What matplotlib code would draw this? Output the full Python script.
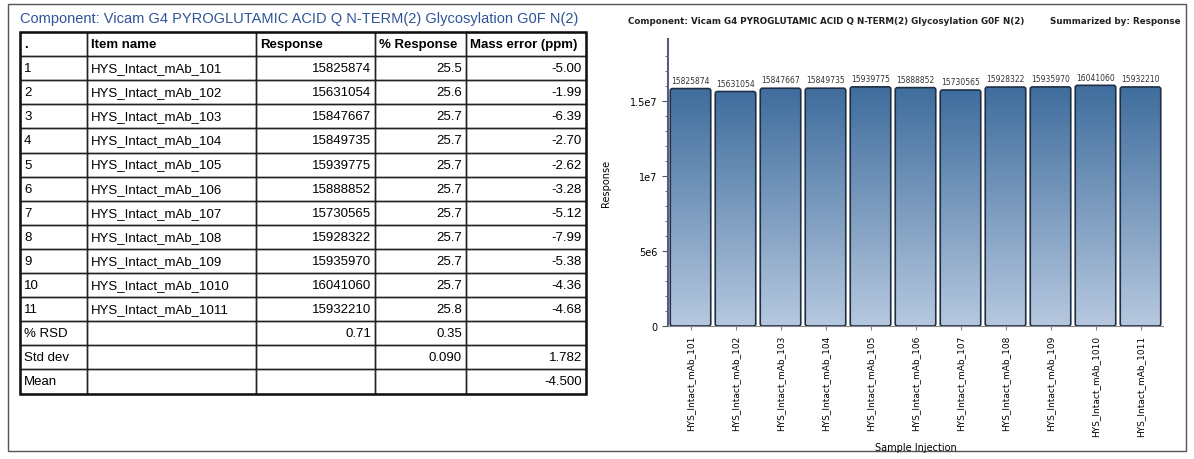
import matplotlib
matplotlib.use("Agg")
import matplotlib.pyplot as plt
import numpy as np
from matplotlib.patches import Rectangle, FancyBboxPatch

items = ["HYS_Intact_mAb_101","HYS_Intact_mAb_102","HYS_Intact_mAb_103","HYS_Intact_mAb_104",
         "HYS_Intact_mAb_105","HYS_Intact_mAb_106","HYS_Intact_mAb_107","HYS_Intact_mAb_108",
         "HYS_Intact_mAb_109","HYS_Intact_mAb_1010","HYS_Intact_mAb_1011"]
response = [15825874,15631054,15847667,15849735,15939775,15888852,15730565,15928322,15935970,16041060,15932210]
pct_response = ["25.5","25.6","25.7","25.7","25.7","25.7","25.7","25.7","25.7","25.7","25.8"]
mass_error = ["-5.00","-1.99","-6.39","-2.70","-2.62","-3.28","-5.12","-7.99","-5.38","-4.36","-4.68"]
summary_rows = [["% RSD","","0.71","0.35",""],["Std dev","","","0.090","1.782"],["Mean","","","","-4.500"]]
title = "Component: Vicam G4 PYROGLUTAMIC ACID Q N-TERM(2) Glycosylation G0F N(2)"

W, H = 1194, 460
fig = plt.figure(figsize=(W/100, H/100), dpi=100)
bg = fig.add_axes([0, 0, 1, 1]); bg.set_xlim(0, W); bg.set_ylim(H, 0); bg.axis("off")
bg.add_patch(Rectangle((8, 5), 1178, 447, fill=False, ec="#555555", lw=1))
bg.text(20, 19, title, color="#2f5597", fontsize=10.5, va="center", family="Liberation Sans")

# table
cols = [20, 87, 256, 375, 466, 586]
top, rh = 33, 24.1
header = [".", "Item name", "Response", "% Response", "Mass error (ppm)"]
rows = [header] + [[str(i+1), items[i], str(response[i]), pct_response[i], mass_error[i]] for i in range(11)] + summary_rows
for r, row in enumerate(rows):
    y0 = top + r*rh
    for c, txt in enumerate(row):
        x0, x1 = cols[c], cols[c+1]
        bg.add_patch(Rectangle((x0, y0), x1-x0, rh, fill=False, ec="#222222", lw=1))
        if not txt: continue
        fw = "bold" if r == 0 else "normal"
        if r == 0 or c <= 1:
            bg.text(x0+4, y0+rh/2, txt, fontsize=9.5, va="center", ha="left", weight=fw, family="Liberation Sans")
        else:
            bg.text(x1-4, y0+rh/2, txt, fontsize=9.5, va="center", ha="right", family="Liberation Sans")
bg.add_patch(Rectangle((cols[0], top), cols[-1]-cols[0], rh*len(rows), fill=False, ec="#111111", lw=1.8))

# chart
bg.text(628, 21, title, fontsize=6.3, weight="bold", va="center", color="#222222")
bg.text(1180, 21, "Summarized by: Response", fontsize=6.3, weight="bold", va="center", ha="right", color="#222222")
ax = fig.add_axes([668/W, 1-327/H, (1163-668)/W, (327-40)/H])
ax.set_ylim(0, 1.913e7)
x = np.arange(len(items))
ax.set_xlim(-0.5, len(items)-0.5)
grad = np.linspace(0, 1, 256).reshape(-1, 1)
from matplotlib.colors import LinearSegmentedColormap
cmap = LinearSegmentedColormap.from_list("g", ["#b6c8df", "#3f6d9d"])
for xi, v in zip(x, response):
    p = FancyBboxPatch((xi-0.45, 0), 0.9, v, boxstyle="round,pad=0,rounding_size=0.05",
                       mutation_aspect=3e6, fc="none", ec="#1f2f45", lw=1.2, zorder=3)
    ax.add_patch(p)
    im = ax.imshow(grad, extent=(xi-0.45, xi+0.45, 0, v), origin="lower", aspect="auto", cmap=cmap, zorder=2)
    im.set_clip_path(p)
    ax.text(xi, v + 2.5e5, str(v), ha="center", va="bottom", fontsize=5.5, color="#333333")
ax.set_aspect("auto")
ax.set_xlim(-0.5, len(items)-0.5); ax.set_ylim(0, 1.913e7)
ax.set_yticks([0, 5e6, 1e7, 1.5e7]); ax.set_yticklabels(["0", "5e6", "1e7", "1.5e7"], fontsize=7)
ax.set_yticks(np.arange(0, 1.9e7, 1e6), minor=True)
ax.set_xticks(x); ax.set_xticklabels(items, rotation=90, fontsize=6.5)
for s in ["top", "right"]: ax.spines[s].set_visible(False)
ax.spines["left"].set_color("#5a5a8a"); ax.spines["left"].set_linewidth(1.5)
ax.spines["bottom"].set_color("#888888")
ax.tick_params(axis="y", which="major", length=4, color="#555555")
ax.tick_params(axis="y", which="minor", length=2, color="#555555")
ax.tick_params(axis="x", length=3, color="#888888")
ax.set_ylabel("Response", fontsize=7, labelpad=14)
ax.set_xlabel("Sample Injection", fontsize=7, labelpad=4)
fig.savefig("out.png", dpi=100)
